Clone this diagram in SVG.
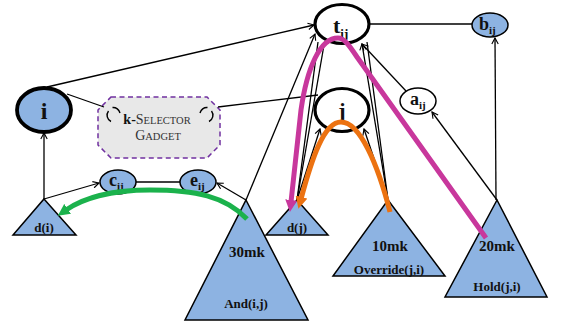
<svg xmlns="http://www.w3.org/2000/svg" width="563" height="331" viewBox="0 0 563 331">
  <style>
    .lbl { font-family: "Liberation Serif", "Times New Roman", serif; font-weight: bold; fill: #111; }
    .big { stroke: #000; stroke-width: 3.2; }
    .sm { stroke: #000; stroke-width: 1.5; }
    .blue { fill: #8db3e2; }
    .white { fill: #fff; }
    .tri { fill: #8db3e2; stroke: #000; stroke-width: 1.5; stroke-linejoin: miter; }
    .edge { stroke: #000; stroke-width: 1.3; fill: none; }
    .arr { marker-end: url(#arrow); }
    .hl { fill: none; stroke-width: 5; }
    .gad { font-family: "Liberation Serif", "Times New Roman", serif; fill: #333; }
  </style>
  <defs>
    <marker id="arrow" viewBox="0 0 10 10" refX="9" refY="5" markerWidth="8" markerHeight="8" orient="auto" markerUnits="userSpaceOnUse">
      <path d="M1.5,1 L9,5 L1.5,9" fill="none" stroke="#000" stroke-width="1.4"/>
    </marker>
    <marker id="headPink" viewBox="0 0 12 12" refX="2" refY="6" markerWidth="12" markerHeight="12" orient="auto" markerUnits="userSpaceOnUse">
      <path d="M0,0 L12,6 L0,12 z" fill="#c8379c"/>
    </marker>
    <marker id="headOrange" viewBox="0 0 12 12" refX="2" refY="6" markerWidth="12" markerHeight="12" orient="auto" markerUnits="userSpaceOnUse">
      <path d="M0,0 L12,6 L0,12 z" fill="#ec7211"/>
    </marker>
    <marker id="headGreen" viewBox="0 0 12 12" refX="2" refY="6" markerWidth="12" markerHeight="12" orient="auto" markerUnits="userSpaceOnUse">
      <path d="M0,0 L12,6 L0,12 z" fill="#1bb24c"/>
    </marker>
  </defs>

  <!-- nodes -->
  <g id="node-tij">
    <ellipse cx="342" cy="24" rx="27" ry="19.5" class="white big"/>
    <text class="lbl" x="333" y="33" font-size="22">t<tspan font-size="13" dy="5">ij</tspan></text>
  </g>
  <g id="node-bij">
    <ellipse cx="490" cy="25" rx="18" ry="12" class="blue sm"/>
    <text class="lbl" x="479" y="30" font-size="18">b<tspan font-size="11" dy="4">ij</tspan></text>
  </g>
  <g id="node-j">
    <ellipse cx="342" cy="110" rx="27" ry="21.5" class="white big"/>
    <text class="lbl" x="342" y="118" font-size="22" text-anchor="middle">j</text>
  </g>
  <g id="node-aij">
    <ellipse cx="418" cy="101" rx="18" ry="13" class="white sm"/>
    <text class="lbl" x="410" y="105" font-size="18">a<tspan font-size="11" dy="4">ij</tspan></text>
  </g>
  <g id="node-i">
    <ellipse cx="44" cy="110" rx="27" ry="22" class="blue" stroke="#000" stroke-width="3.8"/>
    <text class="lbl" x="44" y="119" font-size="24" text-anchor="middle">i</text>
  </g>
  <g id="node-gadget">
    <polygon points="111,97 207,97 220,110 220,145 207,158 111,158 98,145 98,110" fill="#e8e8e8" stroke="#7030a0" stroke-width="1.5" stroke-dasharray="5,3.5"/>
    <path d="M112.5,107.5 A7,7 0 0 1 120,113 M108.5,111 A7,7 0 0 0 111,121.5" fill="none" stroke="#000" stroke-width="1.4"/>
    <path d="M207.5,107.5 A7,7 0 0 0 200,113 M211.5,111 A7,7 0 0 1 209,121.5" fill="none" stroke="#000" stroke-width="1.4"/>
    <text class="gad" x="157" y="124" text-anchor="middle"><tspan font-size="14" font-weight="bold" fill="#111">k-</tspan><tspan font-size="14">S</tspan><tspan font-size="10.5">ELECTOR</tspan></text>
    <text class="gad" x="158" y="140" text-anchor="middle"><tspan font-size="14">G</tspan><tspan font-size="10.5">ADGET</tspan></text>
  </g>
  <g id="node-cij">
    <ellipse cx="118" cy="182" rx="18" ry="12" class="blue sm"/>
    <text class="lbl" x="109" y="186" font-size="18">c<tspan font-size="11" dy="4">ij</tspan></text>
  </g>
  <g id="node-eij">
    <ellipse cx="198" cy="182" rx="18" ry="12" class="blue sm"/>
    <text class="lbl" x="190" y="186" font-size="18">e<tspan font-size="11" dy="4">ij</tspan></text>
  </g>
  <g id="node-di">
    <polygon points="44,199 76,235 13,235" class="tri"/>
    <text class="lbl" x="44" y="232" font-size="13" text-anchor="middle">d(i)</text>
  </g>
  <g id="node-and">
    <polygon points="246,200 308,320 185,320" class="tri"/>
    <text class="lbl" x="247" y="257" font-size="15" text-anchor="middle">30mk</text>
    <text class="lbl" x="246" y="308" font-size="13" text-anchor="middle">And(i,j)</text>
  </g>
  <g id="node-dj">
    <polygon points="297,200 328,235 266,235" class="tri"/>
    <text class="lbl" x="297" y="232" font-size="13" text-anchor="middle">d(j)</text>
  </g>
  <g id="node-override">
    <polygon points="388,200 445,276 333,276" class="tri"/>
    <text class="lbl" x="390" y="251" font-size="15" text-anchor="middle">10mk</text>
    <text class="lbl" x="389" y="274" font-size="13" text-anchor="middle">Override(j,i)</text>
  </g>
  <g id="node-hold">
    <polygon points="497,200 547,297 445,297" class="tri"/>
    <text class="lbl" x="497" y="251" font-size="15" text-anchor="middle">20mk</text>
    <text class="lbl" x="497" y="291" font-size="13" text-anchor="middle">Hold(j,i)</text>
  </g>

  <!-- connectors -->
  <g id="connectors">
    <line x1="47" y1="87" x2="314" y2="25" class="edge arr"/>
    <line x1="67" y1="94" x2="104" y2="107" class="edge" stroke-width="1.6"/>
    <line x1="218" y1="107" x2="318" y2="95" class="edge"/>
    <line x1="44" y1="199" x2="44" y2="133" class="edge arr"/>
    <line x1="44" y1="199" x2="99" y2="183" class="edge arr"/>
    <line x1="136" y1="182" x2="180" y2="182" class="edge" stroke-width="2"/>
    <line x1="246" y1="200" x2="217" y2="183" class="edge arr"/>
    <line x1="246" y1="200" x2="315" y2="34" class="edge arr"/>
    <line x1="297" y1="200" x2="320" y2="129" class="edge arr"/>
    <line x1="297" y1="200" x2="318" y2="42" class="edge"/>
    <line x1="297" y1="200" x2="324" y2="45" class="edge"/>
    <line x1="388" y1="200" x2="364" y2="129" class="edge arr"/>
    <line x1="388" y1="200" x2="362" y2="44" class="edge arr"/>
    <line x1="388" y1="200" x2="367" y2="42" class="edge"/>
    <line x1="406" y1="91" x2="362" y2="44" class="edge arr"/>
    <line x1="497" y1="200" x2="432" y2="112" class="edge arr"/>
    <line x1="496" y1="200" x2="495" y2="38" class="edge arr"/>
    <line x1="369" y1="24" x2="472" y2="24" class="edge" stroke-width="2"/>
  </g>

  <!-- highlighted paths -->
  <g id="paths">
    <path d="M486,238 L357,57 C349,45 344,38 338,38 C320,38 307,68 301,110 L291,202" class="hl" stroke="#c8379c" marker-end="url(#headPink)"/>
    <path d="M390,212 C378,165 360,122 341,122 C324,122 312,158 301,199" class="hl" stroke="#ec7211" marker-end="url(#headOrange)"/>
    <path d="M247,219 C225,196 195,190 150,190 C110,190 82,199 66,210" class="hl" stroke="#1bb24c" marker-end="url(#headGreen)"/>
  </g>
</svg>
